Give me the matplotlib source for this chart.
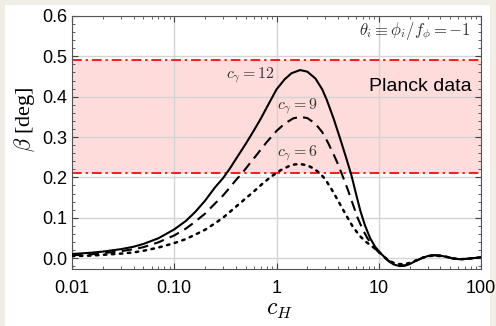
import numpy as np
import matplotlib
matplotlib.use("Agg")
import matplotlib.pyplot as plt
from matplotlib.patches import Rectangle
from matplotlib.ticker import FixedLocator, FixedFormatter, MultipleLocator

plt.rcParams['font.family'] = ['Liberation Sans', 'DejaVu Sans']
plt.rcParams['mathtext.fontset'] = 'cm'

# values (beta in deg vs c_H)
cH_12 = [0.01, 0.015, 0.02, 0.03, 0.04, 0.05, 0.07, 0.1, 0.13, 0.16, 0.2, 0.25, 0.3, 0.35, 0.4, 0.5,
         0.6, 0.7, 0.85, 1.0, 1.2, 1.4, 1.7, 2.0, 2.4, 2.8, 3.1, 3.6, 4.2, 4.8, 5.4, 6.0, 6.6, 7.3,
         8.2, 9.2, 10.3, 11.3, 12.5, 14, 16, 18, 20, 23, 27, 31, 35, 40, 46, 53, 62, 72, 85, 100]
beta_12 = [0.010, 0.013, 0.016, 0.022, 0.028, 0.035, 0.049, 0.071, 0.092, 0.114, 0.142, 0.175, 0.198, 0.222, 0.245, 0.283,
           0.316, 0.345, 0.385, 0.418, 0.443, 0.458, 0.466, 0.462, 0.445, 0.418, 0.392, 0.347, 0.295, 0.248, 0.205, 0.158, 0.117, 0.082,
           0.050, 0.028, 0.013, 0.003, -0.008, -0.016, -0.020, -0.019, -0.015, -0.007, 0.001, 0.006, 0.007, 0.006, 0.003, -0.001, -0.003, -0.002, 0.000, 0.002]

cH_9 = [0.01, 0.015, 0.02, 0.03, 0.04, 0.05, 0.07, 0.1, 0.13, 0.16, 0.2, 0.25, 0.3, 0.35, 0.4, 0.46,
        0.55, 0.65, 0.8, 1.0, 1.2, 1.45, 1.7, 2.0, 2.4, 2.8, 3.2, 3.6, 4.0, 4.4, 5.0, 5.6, 6.2, 6.9,
        7.7, 8.7, 10, 11, 12.5, 14, 16, 18, 20, 23, 27, 31, 35, 40, 46, 53, 62, 72, 85, 100]
beta_9 = [0.007, 0.009, 0.012, 0.017, 0.022, 0.027, 0.039, 0.056, 0.073, 0.090, 0.110, 0.135, 0.155, 0.175, 0.193, 0.210,
          0.235, 0.258, 0.287, 0.315, 0.333, 0.346, 0.350, 0.347, 0.333, 0.312, 0.285, 0.258, 0.232, 0.205, 0.168, 0.132, 0.100, 0.073,
          0.050, 0.030, 0.014, 0.004, -0.007, -0.014, -0.018, -0.018, -0.014, -0.007, 0.001, 0.006, 0.007, 0.006, 0.003, -0.001, -0.003, -0.002, 0.000, 0.002]

cH_6 = [0.01, 0.015, 0.02, 0.03, 0.04, 0.05, 0.07, 0.1, 0.13, 0.16, 0.2, 0.25, 0.3, 0.4, 0.5, 0.6,
        0.75, 0.9, 1.1, 1.3, 1.5, 1.7, 2.0, 2.3, 2.66, 3.0, 3.5, 4.0, 4.7, 5.5, 6.5, 7.5, 8.5,
        10, 11, 12.5, 14, 16, 18, 20, 23, 27, 31, 35, 40, 46, 53, 62, 72, 85, 100]
beta_6 = [0.005, 0.006, 0.008, 0.011, 0.014, 0.018, 0.026, 0.037, 0.047, 0.058, 0.070, 0.086, 0.100, 0.127, 0.148, 0.165,
          0.187, 0.203, 0.218, 0.227, 0.232, 0.233, 0.230, 0.222, 0.210, 0.195, 0.168, 0.142, 0.110, 0.080, 0.055, 0.040, 0.030,
          0.016, 0.005, -0.006, -0.012, -0.015, -0.015, -0.012, -0.006, 0.001, 0.005, 0.006, 0.005, 0.003, -0.001, -0.003, -0.002, 0.000, 0.002]

planck_lo, planck_hi = 0.21, 0.49
xticks = [0.01, 0.1, 1, 10, 100]
xtick_labels = ['0.01', '0.10', '1', '10', '100']

fig = plt.figure(figsize=(4.96, 3.26), dpi=100)
fig.patch.set_facecolor('#f1eee8')
fig.patches.append(Rectangle((0.010, 0.0), 0.978, 0.985, transform=fig.transFigure,
                             facecolor='white', edgecolor='none', zorder=-5))
ax = fig.add_axes([0.145, 0.175, 0.825, 0.776])
ax.set_zorder(2)

# Planck band
ax.axhspan(planck_lo, planck_hi, color='#ffdcdc', zorder=0, lw=0)
for yb in (planck_lo, planck_hi):
    ax.axhline(yb, color='#ff1a1a', ls=(0, (5, 2, 1.2, 2)), lw=1.4, zorder=1)

ax.plot(cH_12, beta_12, color='black', lw=1.5, zorder=3)
ax.plot(cH_9, beta_9, color='black', lw=1.5, ls=(0, (5, 3)), zorder=3)
ax.plot(cH_6, beta_6, color='black', lw=1.8, ls=(0, (1, 2.2)), dash_capstyle='round', zorder=3)

ax.set_xscale('log')
ax.set_xlim(0.01, 100)
ax.set_ylim(-0.027, 0.6)

ax.xaxis.set_major_locator(FixedLocator(xticks))
ax.xaxis.set_major_formatter(FixedFormatter(xtick_labels))
minor = [m * 10.0 ** e for e in range(-2, 2) for m in range(2, 10)]
ax.xaxis.set_minor_locator(FixedLocator(minor))
ax.yaxis.set_major_locator(MultipleLocator(0.1))
ax.yaxis.set_minor_locator(MultipleLocator(0.02))
ax.yaxis.set_major_formatter(plt.FuncFormatter(lambda v, p: f'{v:.1f}'))

ax.tick_params(which='both', direction='in', top=True, right=True, labelsize=13, color='#444444')
ax.tick_params(which='major', length=4, width=0.8)
ax.tick_params(which='minor', length=2.5, width=0.6)
ax.tick_params(axis='x', pad=8)

ax.grid(True, which='major', color='#d4d4d4', lw=1.0, zorder=0)
ax.set_axisbelow(True)
for s in ax.spines.values():
    s.set_color('#555555')
    s.set_linewidth(0.8)

ax.text(0.55, 0.454, r'$c_\gamma = 12$', fontsize=11.5, color='#333333', ha='center', va='center')
ax.text(1.62, 0.377, r'$c_\gamma = 9$', fontsize=11.5, color='#333333', ha='center', va='center')
ax.text(1.62, 0.26, r'$c_\gamma = 6$', fontsize=11.5, color='#333333', ha='center', va='center')
ax.text(0.977, 0.72, 'Planck data', fontsize=14, transform=ax.transAxes, ha='right', va='center')
ax.text(0.975, 0.94, r'$\theta_i \equiv \phi_i/f_\phi = -1$', fontsize=12, color='#333333',
        transform=ax.transAxes, ha='right', va='center')

ax.set_ylabel(r'$\beta$ [deg]', fontsize=16, family=['Liberation Serif', 'DejaVu Serif'])
ax.yaxis.set_label_coords(-0.085, 0.59)
ax.set_xlabel(r'$c_H$', fontsize=17)
ax.xaxis.set_label_coords(0.506, -0.12)

fig.savefig('out.png', dpi=100, facecolor=fig.get_facecolor())
